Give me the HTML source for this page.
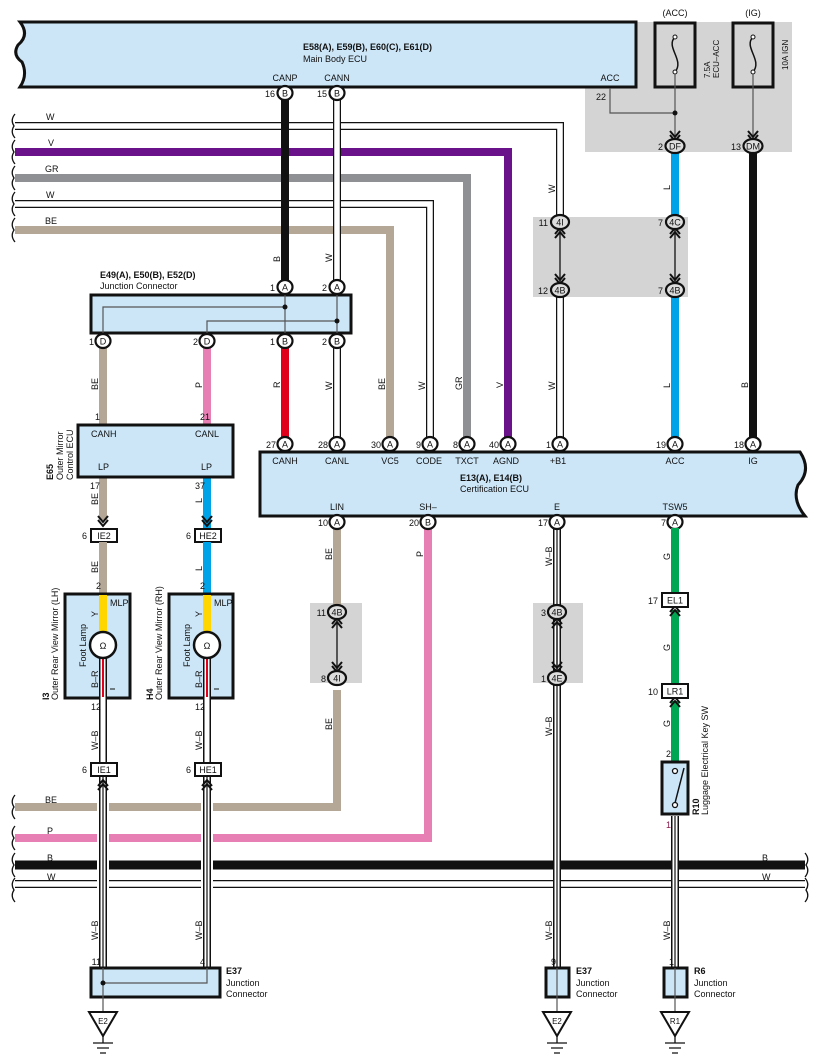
<!DOCTYPE html>
<html><head><meta charset="utf-8"><style>
html,body{margin:0;padding:0;background:#fff;}
svg{display:block;font-family:"Liberation Sans",Arial,sans-serif;}
.t{font-size:9px;fill:#111;}
.b{font-size:9px;font-weight:bold;fill:#111;}
.s{font-size:8px;fill:#111;}
.c{font-size:9px;fill:#111;text-anchor:middle;}
.n{font-size:9px;fill:#111;text-anchor:end;}
.pl{fill:#fff;stroke:#111;stroke-width:2.2;}
.pg{fill:#ddd;stroke:#111;stroke-width:2.2;}
.bx{fill:#cce6f8;stroke:#111;stroke-width:3;}
</style></head><body>
<svg width="818" height="1062" viewBox="0 0 818 1062" xmlns="http://www.w3.org/2000/svg">
<!-- gray regions -->
<rect x="585" y="22" width="207" height="130" fill="#d4d4d4"/>
<rect x="533" y="217" width="155" height="80" fill="#d4d4d4"/>
<rect x="310" y="603" width="52" height="80" fill="#d4d4d4"/>
<rect x="533" y="603" width="50" height="80" fill="#d4d4d4"/>

<!-- Main body ECU -->
<path class="bx" d="M20 22 H636 V87 H20 Q28 75 22 62 Q12 55 18 45 Q30 35 20 22 Z"/>
<text class="b" x="303" y="50">E58(A), E59(B), E60(C), E61(D)</text>
<text class="t" x="303" y="62">Main Body ECU</text>
<text class="c" x="285" y="81">CANP</text>
<text class="c" x="337" y="81">CANN</text>
<text class="c" x="610" y="81">ACC</text>
<text class="n" x="606" y="100">22</text>

<!-- fuses -->
<rect x="655" y="23" width="40" height="64" fill="#d4d4d4" stroke="#111" stroke-width="3"/>
<rect x="733" y="23" width="40" height="64" fill="#d4d4d4" stroke="#111" stroke-width="3"/>
<text class="c" x="675" y="16">(ACC)</text>
<text class="c" x="753" y="16">(IG)</text>
<path d="M675 37 C665 47 685 60 675 72" fill="none" stroke="#111" stroke-width="1.5"/>
<path d="M753 37 C743 47 763 60 753 72" fill="none" stroke="#111" stroke-width="1.5"/>
<circle cx="675" cy="37" r="2" fill="#fff" stroke="#111"/><circle cx="675" cy="72" r="2" fill="#fff" stroke="#111"/>
<circle cx="753" cy="37" r="2" fill="#fff" stroke="#111"/><circle cx="753" cy="72" r="2" fill="#fff" stroke="#111"/>
<text class="s" transform="translate(710,78) rotate(-90)">7.5A</text>
<text class="s" transform="translate(719,78) rotate(-90)">ECU–ACC</text>
<text class="s" transform="translate(788,70) rotate(-90)">10A IGN</text>
<path d="M610 88 V113 H675 M675 74 V138 M753 74 V138" fill="none" stroke="#555" stroke-width="1.2"/>
<circle cx="675" cy="113" r="2.5" fill="#111"/>
<path d="M670 131 L675 137 L680 131 M670 135 L675 141 L680 135" fill="none" stroke="#111" stroke-width="2"/>
<path d="M748 131 L753 137 L758 131 M748 135 L753 141 L758 135" fill="none" stroke="#111" stroke-width="2"/>

<!-- left curly braces -->
<g fill="none" stroke="#111" stroke-width="1.3">
<path d="M15 114 Q10 120 14 126 Q10 132 15 138"/>
<path d="M15 140 Q10 146 14 152 Q10 158 15 164"/>
<path d="M15 166 Q10 172 14 178 Q10 184 15 190"/>
<path d="M15 192 Q10 198 14 204 Q10 210 15 216"/>
<path d="M15 218 Q10 224 14 230 Q10 236 15 242"/>
<path d="M15 795 Q10 801 14 807 Q10 813 15 819"/>
<path d="M15 826 Q10 832 14 838 Q10 844 15 850"/>
<path d="M15 853 Q10 859 14 865 Q10 871 15 877"/>
<path d="M15 878 Q10 884 14 890 Q10 896 15 902"/>
<path d="M805 853 Q810 859 806 865 Q810 871 805 877"/>
<path d="M805 878 Q810 884 806 890 Q810 896 805 902"/>
</g>

<!-- top horizontal wires -->
<path d="M15 126 H560 V222" fill="none" stroke="#111" stroke-width="8"/>
<path d="M15 126 H560 V222" fill="none" stroke="#fff" stroke-width="5.5"/>
<path d="M15 152 H508 V440" fill="none" stroke="#6a1289" stroke-width="8"/>
<path d="M15 178 H467 V440" fill="none" stroke="#8e9094" stroke-width="8"/>
<path d="M15 204 H430 V440" fill="none" stroke="#111" stroke-width="8"/>
<path d="M15 204 H430 V440" fill="none" stroke="#fff" stroke-width="5.5"/>
<path d="M15 230 H390 V440" fill="none" stroke="#b5a796" stroke-width="8"/>
<text class="t" x="46" y="120">W</text>
<text class="t" x="48" y="146">V</text>
<text class="t" x="45" y="172">GR</text>
<text class="t" x="46" y="198">W</text>
<text class="t" x="45" y="224">BE</text>

<!-- CANP / CANN -->
<path d="M285 100 V281" stroke="#111" stroke-width="8"/>
<path d="M337 100 V281" stroke="#111" stroke-width="8"/>
<path d="M337 100 V281" stroke="#fff" stroke-width="5.5"/>
<ellipse class="pl" cx="285" cy="93" rx="7.5" ry="7"/><text class="c" x="285" y="96.5">B</text><text class="n" x="275" y="97">16</text>
<ellipse class="pl" cx="337" cy="93" rx="7.5" ry="7"/><text class="c" x="337" y="96.5">B</text><text class="n" x="327" y="97">15</text>
<text class="t" transform="translate(280,262) rotate(-90)">B</text>
<text class="t" transform="translate(332,262) rotate(-90)">W</text>

<!-- right vertical wires -->
<path d="M560 290 V440" stroke="#111" stroke-width="8"/><path d="M560 290 V440" stroke="#fff" stroke-width="5.5"/>
<path d="M675 152 V217 M675 296 V440" stroke="#00a3e8" stroke-width="8"/>
<path d="M753 152 V440" stroke="#111" stroke-width="8"/>
<path d="M560 230 V283 M675 230 V283" stroke="#111" stroke-width="1.3"/>
<path d="M555 234 L560 228 L565 234 M555 238 L560 232 L565 238 M555 278 L560 284 L565 278 M555 274 L560 280 L565 274" fill="none" stroke="#111" stroke-width="2"/>
<path d="M670 234 L675 228 L680 234 M670 238 L675 232 L680 238 M670 278 L675 284 L680 278 M670 274 L675 280 L680 274" fill="none" stroke="#111" stroke-width="2"/>
<ellipse class="pg" cx="675" cy="146" rx="9.5" ry="7"/><text class="c" x="675" y="149.5">DF</text><text class="n" x="663" y="150">2</text>
<ellipse class="pg" cx="753" cy="146" rx="9.5" ry="7"/><text class="c" x="753" y="149.5">DM</text><text class="n" x="741" y="150">13</text>
<ellipse class="pg" cx="560" cy="222" rx="9" ry="7"/><text class="c" x="560" y="225.5">4I</text><text class="n" x="548" y="226">11</text>
<ellipse class="pg" cx="675" cy="222" rx="9" ry="7"/><text class="c" x="675" y="225.5">4C</text><text class="n" x="663" y="226">7</text>
<ellipse class="pg" cx="560" cy="290" rx="9" ry="7"/><text class="c" x="560" y="293.5">4B</text><text class="n" x="548" y="294">12</text>
<ellipse class="pg" cx="675" cy="290" rx="9" ry="7"/><text class="c" x="675" y="293.5">4B</text><text class="n" x="663" y="294">7</text>
<text class="t" transform="translate(555,193) rotate(-90)">W</text>
<text class="t" transform="translate(670,190) rotate(-90)">L</text>
<text class="t" transform="translate(555,390) rotate(-90)">W</text>
<text class="t" transform="translate(670,388) rotate(-90)">L</text>
<text class="t" transform="translate(748,388) rotate(-90)">B</text>
<text class="t" transform="translate(385,390) rotate(-90)">BE</text>
<text class="t" transform="translate(425,390) rotate(-90)">W</text>
<text class="t" transform="translate(462,390) rotate(-90)">GR</text>
<text class="t" transform="translate(503,388) rotate(-90)">V</text>

<!-- Junction connector E49 -->
<text class="b" x="100" y="278">E49(A), E50(B), E52(D)</text>
<text class="t" x="100" y="289">Junction Connector</text>
<rect class="bx" x="91" y="295" width="260" height="38"/>
<path d="M103 333 V307 H285 M207 333 V321 H337 M285 295 V333 M337 295 V333" fill="none" stroke="#555" stroke-width="1.2"/>
<circle cx="285" cy="307" r="2.5" fill="#111"/><circle cx="337" cy="321" r="2.5" fill="#111"/>
<ellipse class="pl" cx="285" cy="287" rx="7.5" ry="7"/><text class="c" x="285" y="290.5">A</text><text class="n" x="275" y="291">1</text>
<ellipse class="pl" cx="337" cy="287" rx="7.5" ry="7"/><text class="c" x="337" y="290.5">A</text><text class="n" x="327" y="291">2</text>

<!-- wires below junction -->
<path d="M103 348 V425 M103 477 V520" stroke="#b5a796" stroke-width="8"/>
<path d="M207 348 V425" stroke="#e87fb4" stroke-width="8"/>
<path d="M207 477 V528" stroke="#00a3e8" stroke-width="8"/>
<path d="M285 348 V440" stroke="#e0001b" stroke-width="8"/>
<path d="M337 348 V440" stroke="#111" stroke-width="8"/><path d="M337 348 V440" stroke="#fff" stroke-width="5.5"/>
<ellipse class="pl" cx="103" cy="341" rx="7.5" ry="7"/><text class="c" x="103" y="344.5">D</text><text class="n" x="94" y="345">1</text>
<ellipse class="pl" cx="207" cy="341" rx="7.5" ry="7"/><text class="c" x="207" y="344.5">D</text><text class="n" x="198" y="345">2</text>
<ellipse class="pl" cx="285" cy="341" rx="7.5" ry="7"/><text class="c" x="285" y="344.5">B</text><text class="n" x="275" y="345">1</text>
<ellipse class="pl" cx="337" cy="341" rx="7.5" ry="7"/><text class="c" x="337" y="344.5">B</text><text class="n" x="327" y="345">2</text>
<text class="t" transform="translate(98,390) rotate(-90)">BE</text>
<text class="t" transform="translate(202,388) rotate(-90)">P</text>
<text class="t" transform="translate(280,388) rotate(-90)">R</text>
<text class="t" transform="translate(332,390) rotate(-90)">W</text>

<!-- E65 -->
<text class="n" x="100" y="420">1</text><text class="n" x="210" y="420">21</text>
<rect class="bx" x="78" y="425" width="155" height="52"/>
<text class="t" x="91" y="437">CANH</text><text class="t" x="195" y="437">CANL</text>
<text class="t" x="98" y="470">LP</text><text class="t" x="201" y="470">LP</text>
<text class="b" transform="translate(53,480) rotate(-90)">E65</text>
<text class="t" transform="translate(63,480) rotate(-90)">Outer Mirror</text>
<text class="t" transform="translate(73,480) rotate(-90)">Control ECU</text>
<text class="n" x="100" y="489">17</text><text class="n" x="205" y="489">37</text>
<text class="t" transform="translate(98,505) rotate(-90)">BE</text>
<text class="t" transform="translate(202,503) rotate(-90)">L</text>
<path d="M98 516 L103 522 L108 516 M98 520 L103 526 L108 520" fill="none" stroke="#111" stroke-width="2"/>
<path d="M202 516 L207 522 L212 516 M202 520 L207 526 L212 520" fill="none" stroke="#111" stroke-width="2"/>
<rect x="91" y="529" width="26" height="13" fill="#fff" stroke="#111" stroke-width="2"/><text class="c" x="104" y="539">IE2</text><text class="n" x="87" y="539">6</text>
<rect x="195" y="529" width="26" height="13" fill="#fff" stroke="#111" stroke-width="2"/><text class="c" x="208" y="539">HE2</text><text class="n" x="191" y="539">6</text>
<path d="M103 542 V594" stroke="#b5a796" stroke-width="8"/>
<path d="M207 542 V594" stroke="#00a3e8" stroke-width="8"/>
<text class="t" transform="translate(98,573) rotate(-90)">BE</text>
<text class="t" transform="translate(202,571) rotate(-90)">L</text>
<text class="n" x="101" y="589">2</text><text class="n" x="205" y="589">2</text>

<!-- mirrors -->
<rect class="bx" x="65" y="594" width="65" height="104"/>
<rect class="bx" x="169" y="594" width="64" height="104"/>
<path d="M103 595 V633 M207 595 V633" stroke="#ffd600" stroke-width="8"/>
<g>
<path d="M103 657 V770" stroke="#111" stroke-width="8"/><path d="M103 657 V697" stroke="#e0001b" stroke-width="3"/><path d="M103 697 V770" stroke="#fff" stroke-width="5"/>
<path d="M103 657 V697" stroke="#fff" stroke-width="5" stroke-dasharray="0"/><path d="M103 657 V697" stroke="#e0001b" stroke-width="2"/>
<path d="M207 657 V770" stroke="#111" stroke-width="8"/><path d="M207 657 V697" stroke="#fff" stroke-width="5"/><path d="M207 657 V697" stroke="#e0001b" stroke-width="2"/><path d="M207 697 V770" stroke="#fff" stroke-width="5"/>
</g>
<circle cx="103" cy="645" r="13" fill="#fff" stroke="#111" stroke-width="2.5"/>
<circle cx="207" cy="645" r="13" fill="#fff" stroke="#111" stroke-width="2.5"/>
<text class="c" x="103" y="649">Ω</text><text class="c" x="207" y="649">Ω</text>
<text class="t" x="110" y="606">MLP</text><text class="t" x="214" y="606">MLP</text>
<text class="t" transform="translate(98,617) rotate(-90)">Y</text>
<text class="t" transform="translate(202,617) rotate(-90)">Y</text>
<text class="t" transform="translate(86,667) rotate(-90)">Foot Lamp</text>
<text class="t" transform="translate(190,667) rotate(-90)">Foot Lamp</text>
<text class="t" transform="translate(98,688) rotate(-90)">B–R</text>
<text class="t" transform="translate(202,688) rotate(-90)">B–R</text>
<path d="M110 689 H115 M214 689 H219" stroke="#111"/>
<text class="b" transform="translate(49,700) rotate(-90)">I3</text>
<text class="t" transform="translate(58,700) rotate(-90)">Outer Rear View Mirror (LH)</text>
<text class="b" transform="translate(153,700) rotate(-90)">H4</text>
<text class="t" transform="translate(162,700) rotate(-90)">Outer Rear View Mirror (RH)</text>
<text class="n" x="101" y="710">12</text><text class="n" x="205" y="710">12</text>
<text class="t" transform="translate(98,750) rotate(-90)">W–B</text>
<text class="t" transform="translate(202,750) rotate(-90)">W–B</text>
<rect x="91" y="763" width="26" height="13" fill="#fff" stroke="#111" stroke-width="2"/><text class="c" x="104" y="773">IE1</text><text class="n" x="87" y="773">6</text>
<rect x="195" y="763" width="26" height="13" fill="#fff" stroke="#111" stroke-width="2"/><text class="c" x="208" y="773">HE1</text><text class="n" x="191" y="773">6</text>

<!-- bottom horizontal wires -->
<path d="M15 807 H337 V690" fill="none" stroke="#b5a796" stroke-width="8"/>
<path d="M15 838 H428 V528" fill="none" stroke="#e87fb4" stroke-width="8"/>
<path d="M15 865 H805" stroke="#111" stroke-width="9"/>
<path d="M15 884 H805" stroke="#111" stroke-width="8"/><path d="M15 884 H805" stroke="#fff" stroke-width="5.5"/>
<text class="t" x="45" y="803">BE</text>
<text class="t" x="47" y="834">P</text>
<text class="t" x="47" y="861">B</text><text class="t" x="762" y="861">B</text>
<text class="t" x="47" y="880">W</text><text class="t" x="762" y="880">W</text>

<!-- vertical W-B through bottom -->
<g>
<path d="M103 777 V968 M207 777 V968" stroke="#fff" stroke-width="12"/>
<path d="M103 777 V968 M207 777 V968" stroke="#111" stroke-width="8"/>
<path d="M103 777 V968 M207 777 V968" stroke="#fff" stroke-width="5"/>
<path d="M103 777 V968 M207 777 V968" stroke="#111" stroke-width="1.2"/>
</g>
<path d="M98 786 L103 780 L108 786 M98 790 L103 784 L108 790 M202 786 L207 780 L212 786 M202 790 L207 784 L212 790" fill="none" stroke="#111" stroke-width="2"/>
<text class="t" transform="translate(98,940) rotate(-90)">W–B</text>
<text class="t" transform="translate(202,940) rotate(-90)">W–B</text>
<text class="n" x="101" y="965">11</text><text class="n" x="205" y="965">4</text>
<rect class="bx" x="91" y="968" width="129" height="29"/>
<path d="M103 968 V1012 M207 968 V983 H103" fill="none" stroke="#555" stroke-width="1.2"/>
<circle cx="103" cy="983" r="2.5" fill="#111"/>
<text class="b" x="226" y="974">E37</text><text class="t" x="226" y="986">Junction</text><text class="t" x="226" y="997">Connector</text>

<!-- Certification ECU -->
<path class="bx" d="M260 452 H800 Q812 470 798 485 Q792 500 805 516 H260 Z"/>
<g>
<ellipse class="pl" cx="285" cy="444" rx="7.5" ry="7"/><text class="c" x="285" y="447.5">A</text><text class="n" x="276" y="448">27</text>
<ellipse class="pl" cx="337" cy="444" rx="7.5" ry="7"/><text class="c" x="337" y="447.5">A</text><text class="n" x="328" y="448">28</text>
<ellipse class="pl" cx="390" cy="444" rx="7.5" ry="7"/><text class="c" x="390" y="447.5">A</text><text class="n" x="381" y="448">30</text>
<ellipse class="pl" cx="430" cy="444" rx="7.5" ry="7"/><text class="c" x="430" y="447.5">A</text><text class="n" x="421" y="448">9</text>
<ellipse class="pl" cx="467" cy="444" rx="7.5" ry="7"/><text class="c" x="467" y="447.5">A</text><text class="n" x="458" y="448">8</text>
<ellipse class="pl" cx="508" cy="444" rx="7.5" ry="7"/><text class="c" x="508" y="447.5">A</text><text class="n" x="499" y="448">40</text>
<ellipse class="pl" cx="560" cy="444" rx="7.5" ry="7"/><text class="c" x="560" y="447.5">A</text><text class="n" x="551" y="448">1</text>
<ellipse class="pl" cx="675" cy="444" rx="7.5" ry="7"/><text class="c" x="675" y="447.5">A</text><text class="n" x="666" y="448">19</text>
<ellipse class="pl" cx="753" cy="444" rx="7.5" ry="7"/><text class="c" x="753" y="447.5">A</text><text class="n" x="744" y="448">18</text>
</g>
<text class="c" x="285" y="464">CANH</text><text class="c" x="337" y="464">CANL</text><text class="c" x="390" y="464">VC5</text>
<text class="c" x="429" y="464">CODE</text><text class="c" x="467" y="464">TXCT</text><text class="c" x="506" y="464">AGND</text>
<text class="c" x="558" y="464">+B1</text><text class="c" x="675" y="464">ACC</text><text class="c" x="753" y="464">IG</text>
<text class="b" x="460" y="481">E13(A), E14(B)</text>
<text class="t" x="460" y="492">Certification ECU</text>
<text class="c" x="337" y="510">LIN</text><text class="c" x="428" y="510">SH–</text><text class="c" x="557" y="510">E</text><text class="c" x="675" y="510">TSW5</text>

<!-- lower vertical wires -->
<path d="M337 528 V606" stroke="#b5a796" stroke-width="8"/>
<path d="M557 528 V968" stroke="#111" stroke-width="8"/><path d="M557 528 V968" stroke="#fff" stroke-width="5"/><path d="M557 528 V968" stroke="#111" stroke-width="1.2"/>
<path d="M337 620 V670 M557 620 V670" stroke="#111" stroke-width="1.3"/>
<path d="M332 624 L337 618 L342 624 M332 628 L337 622 L342 628 M332 666 L337 672 L342 666 M332 662 L337 668 L342 662" fill="none" stroke="#111" stroke-width="2"/>
<path d="M552 624 L557 618 L562 624 M552 628 L557 622 L562 628 M552 666 L557 672 L562 666 M552 662 L557 668 L562 662" fill="none" stroke="#111" stroke-width="2"/>
<ellipse class="pg" cx="337" cy="612" rx="9" ry="7"/><text class="c" x="337" y="615.5">4B</text><text class="n" x="326" y="616">11</text>
<ellipse class="pg" cx="337" cy="678" rx="9" ry="7"/><text class="c" x="337" y="681.5">4I</text><text class="n" x="326" y="682">8</text>
<ellipse class="pg" cx="557" cy="612" rx="9" ry="7"/><text class="c" x="557" y="615.5">4B</text><text class="n" x="546" y="616">3</text>
<ellipse class="pg" cx="557" cy="678" rx="9" ry="7"/><text class="c" x="557" y="681.5">4E</text><text class="n" x="546" y="682">1</text>
<ellipse class="pl" cx="337" cy="522" rx="7.5" ry="7"/><text class="c" x="337" y="525.5">A</text><text class="n" x="328" y="526">10</text>
<ellipse class="pl" cx="428" cy="522" rx="7.5" ry="7"/><text class="c" x="428" y="525.5">B</text><text class="n" x="419" y="526">20</text>
<ellipse class="pl" cx="557" cy="522" rx="7.5" ry="7"/><text class="c" x="557" y="525.5">A</text><text class="n" x="548" y="526">17</text>
<ellipse class="pl" cx="675" cy="522" rx="7.5" ry="7"/><text class="c" x="675" y="525.5">A</text><text class="n" x="666" y="526">7</text>
<text class="t" transform="translate(332,560) rotate(-90)">BE</text>
<text class="t" transform="translate(423,557) rotate(-90)">P</text>
<text class="t" transform="translate(552,566) rotate(-90)">W–B</text>
<text class="t" transform="translate(332,730) rotate(-90)">BE</text>
<text class="t" transform="translate(552,736) rotate(-90)">W–B</text>
<text class="t" transform="translate(552,940) rotate(-90)">W–B</text>

<!-- TSW5 green path -->
<path d="M675 528 V593 M675 610 V684 M675 701 V762" stroke="#00a651" stroke-width="8"/>
<path d="M670 612 L675 606 L680 612 M670 616 L675 610 L680 616 M670 703 L675 697 L680 703 M670 707 L675 701 L680 707" fill="none" stroke="#111" stroke-width="2"/>
<rect x="662" y="593" width="26" height="14" fill="#fff" stroke="#111" stroke-width="2"/><text class="c" x="675" y="603.5">EL1</text><text class="n" x="658" y="604">17</text>
<rect x="662" y="684" width="26" height="14" fill="#fff" stroke="#111" stroke-width="2"/><text class="c" x="675" y="694.5">LR1</text><text class="n" x="658" y="695">10</text>
<text class="t" transform="translate(670,560) rotate(-90)">G</text>
<text class="t" transform="translate(670,651) rotate(-90)">G</text>
<text class="t" transform="translate(670,727) rotate(-90)">G</text>
<text class="n" x="671" y="757">2</text>
<rect class="bx" x="662" y="762" width="26" height="52"/>
<circle cx="675" cy="771" r="2.5" fill="#fff" stroke="#111" stroke-width="1.3"/>
<circle cx="675" cy="805" r="2.5" fill="#fff" stroke="#111" stroke-width="1.3"/>
<path d="M675 803 L684 768" stroke="#111" stroke-width="1.5"/>
<text class="b" transform="translate(699,815) rotate(-90)">R10</text>
<text class="t" transform="translate(708,815) rotate(-90)">Luggage Electrical Key SW</text>
<text class="n" x="671" y="828" style="fill:#8a1a4a">1</text>
<path d="M675 816 V968" stroke="#111" stroke-width="8"/><path d="M675 816 V968" stroke="#fff" stroke-width="5"/><path d="M675 816 V968" stroke="#111" stroke-width="1.2"/>
<text class="t" transform="translate(670,940) rotate(-90)">W–B</text>

<!-- bottom right junctions -->
<text class="n" x="556" y="965">9</text><text class="n" x="674" y="965">1</text>
<rect class="bx" x="546" y="968" width="23" height="29"/>
<rect class="bx" x="664" y="968" width="23" height="29"/>
<path d="M557 968 V1012 M675 968 V1012" stroke="#555" stroke-width="1.2"/>
<text class="b" x="576" y="974">E37</text><text class="t" x="576" y="986">Junction</text><text class="t" x="576" y="997">Connector</text>
<text class="b" x="694" y="974">R6</text><text class="t" x="694" y="986">Junction</text><text class="t" x="694" y="997">Connector</text>

<!-- grounds -->
<g fill="#fff" stroke="#111" stroke-width="2">
<path d="M89 1012 H117 L103 1036 Z"/>
<path d="M543 1012 H571 L557 1036 Z"/>
<path d="M661 1012 H689 L675 1036 Z"/>
</g>
<g stroke="#111" stroke-width="1.3">
<path d="M103 1036 V1043 M93 1043 H113 M97 1048 H109 M100 1053 H106"/>
<path d="M557 1036 V1043 M547 1043 H567 M551 1048 H563 M554 1053 H560"/>
<path d="M675 1036 V1043 M665 1043 H685 M669 1048 H681 M672 1053 H678"/>
</g>
<text class="c" x="103" y="1024" style="font-size:8px">E2</text>
<text class="c" x="557" y="1024" style="font-size:8px">E2</text>
<text class="c" x="675" y="1024" style="font-size:8px">R1</text>
</svg>
</body></html>
